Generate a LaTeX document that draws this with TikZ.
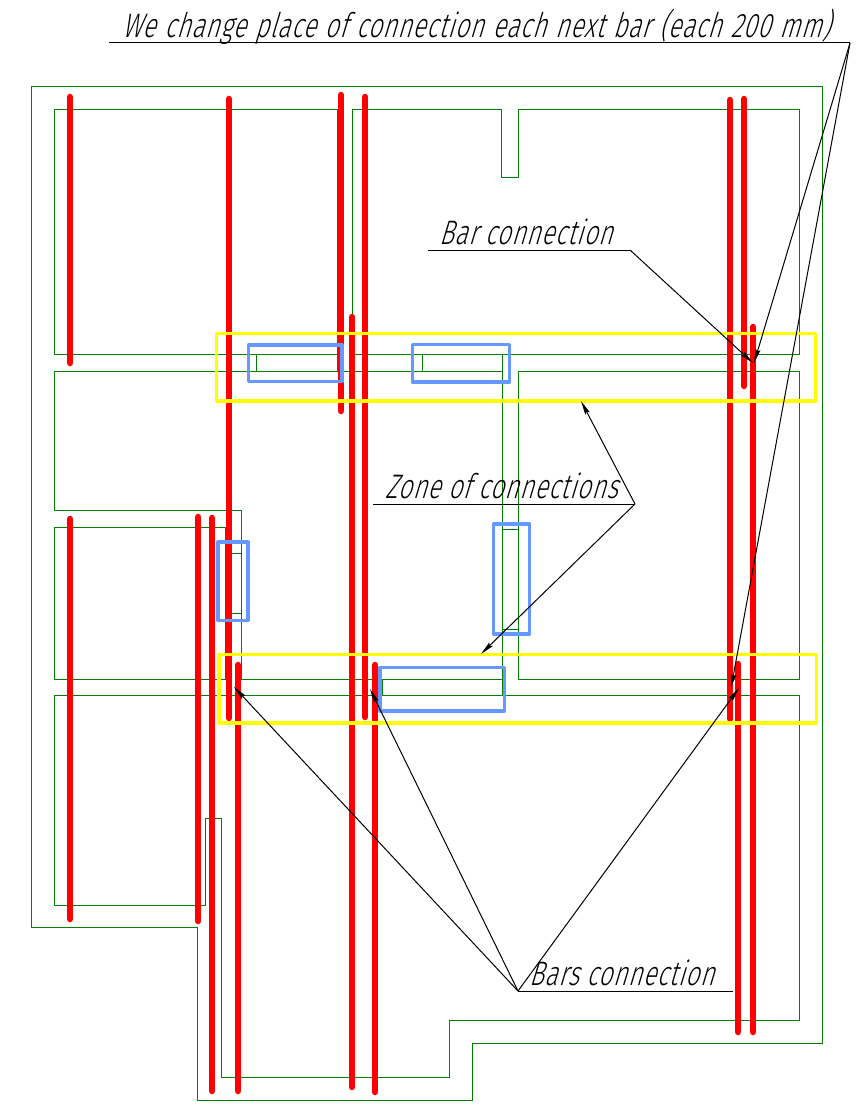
\documentclass[tikz,border=0pt]{standalone}
\usepackage{fontspec}
\usetikzlibrary{arrows.meta}
\newfontfamily\gostfont[FakeSlant=0.3,FakeStretch=0.71,LetterSpace=2.5]{Fira Sans Light}
\definecolor{wallgreen}{HTML}{008000}
\definecolor{barred}{HTML}{FF0000}
\definecolor{zoneyellow}{HTML}{FFFF00}
\definecolor{doorblue}{HTML}{6699FF}
\tikzset{
	wall/.style={draw=wallgreen,line width=1pt},
	bar/.style={draw=barred,line width=6.5pt,line cap=round},
	zonebox/.style={draw=zoneyellow,line width=3.3pt,line join=round},
	doorbox/.style={draw=doorblue,line width=3.3pt,line join=round},
	leader/.style={draw=black,line width=1pt},
	pointer/.style={leader,-{Stealth[length=14pt,width=5pt,inset=2pt]}},
	note/.style={font=\gostfont\fontsize{34}{34}\selectfont,anchor=base west,inner sep=0pt}
}

\begin{document}
\begin{tikzpicture}[x=1pt,y=-1pt]
	\useasboundingbox (0,0) rectangle (866,1113);
	% walls
	\draw[wall] (31,87) -- (822,87) -- (822,1043) -- (472,1043) -- (472,1100) -- (197,1100) -- (197,927) -- (31,927) -- cycle;
	\draw[wall] (54,110) rectangle (337,354);
	\draw[wall] (352,354) -- (352,110) -- (501,110) -- (501,177) -- (518,177) -- (518,110) -- (799,110) -- (799,354) -- cycle;
	\draw[wall] (518,371) rectangle (799,679);
	\draw[wall] (54,527) -- (225,527) -- (225,679) -- (54,679) -- cycle;
	\draw[wall] (502,371) -- (54,371) -- (54,510) -- (241,510) -- (241,679) -- (502,679);
	\draw[wall] (502,354) -- (502,695);
	\draw[wall] (337,354) -- (337,371);
	\draw[wall] (54,695) -- (799,695) -- (799,1020) -- (449,1020) -- (449,1077) -- (221,1077) -- (221,818) -- (205,818) -- (205,905) -- (54,905) -- cycle;
	% door ends
	\draw[wall] (256,354) -- (256,371);
	\draw[wall] (422,354) -- (422,371);
	\draw[wall] (382,679) -- (382,695);
	\draw[wall] (225,553) -- (241,553);
	\draw[wall] (225,613) -- (241,613);
	\draw[wall] (502,529) -- (518,529);
	\draw[wall] (502,629) -- (518,629);
	% bars
	\foreach \px/\ptop/\pbot in {70/97/363,229/99/718,341/95/411,352/317/1087,365/97/717,
		730/100/719,744/99/386,753/327/1032,738/664/1032,70/519/919,198/517/921,
		212/518/1091,238/665/1091,375/665/1092}
		\draw[bar] (\px,\ptop) -- (\px,\pbot);
	% zones
	\draw[zonebox] (216.5,333.5) rectangle (815.5,401);
	\draw[zonebox] (219,654.5) rectangle (816.5,723);
	% doors
	\draw[doorbox] (248.5,345) rectangle (342,381.5);
	\draw[doorbox] (412.5,344.5) rectangle (509.5,382);
	\draw[doorbox] (493.5,524) rectangle (529.5,634);
	\draw[doorbox] (380,667.5) rectangle (504.5,711);
	\draw[doorbox] (218,542) rectangle (248,620.5);
	% notes
	\node[note] (eachnote) at (122,38) {\spaceskip=9pt We change place of connection each next bar (each 200 mm)};
	\node[note] (barnote) at (439,244) {Bar connection};
	\node[note] (zonenote) at (385,498) {Zone of connections};
	\node[note] (barsnote) at (529,985) {Bars connection};
	% leaders
	\coordinate (eachstart) at (109,43);
	\coordinate (eachknee) at (850,43);
	\coordinate (eachtipa) at (754,363);
	\coordinate (eachtipb) at (731,688);
	\coordinate (barstart) at (428,250);
	\coordinate (barknee) at (630,250);
	\coordinate (bartip) at (753,363);
	\coordinate (zonestart) at (373,504);
	\coordinate (zoneknee) at (635,504);
	\coordinate (zonetipa) at (581,401);
	\coordinate (zonetipb) at (481,654);
	\coordinate (barsstart) at (733,991);
	\coordinate (barsknee) at (518,991);
	\coordinate (barstipa) at (234,687);
	\coordinate (barstipb) at (370,689);
	\coordinate (barstipc) at (739,688);
	\draw[leader] (eachstart) -- (eachknee);
	\draw[leader] (barstart) -- (barknee);
	\draw[leader] (zonestart) -- (zoneknee);
	\draw[leader] (barsstart) -- (barsknee);
	\draw[pointer] (eachknee) -- (eachtipa);
	\draw[pointer] (eachknee) -- (eachtipb);
	\draw[pointer] (barknee) -- (bartip);
	\draw[pointer] (zoneknee) -- (zonetipa);
	\draw[pointer] (zoneknee) -- (zonetipb);
	\draw[pointer] (barsknee) -- (barstipa);
	\draw[pointer] (barsknee) -- (barstipb);
	\draw[pointer] (barsknee) -- (barstipc);
\end{tikzpicture}
\end{document}
